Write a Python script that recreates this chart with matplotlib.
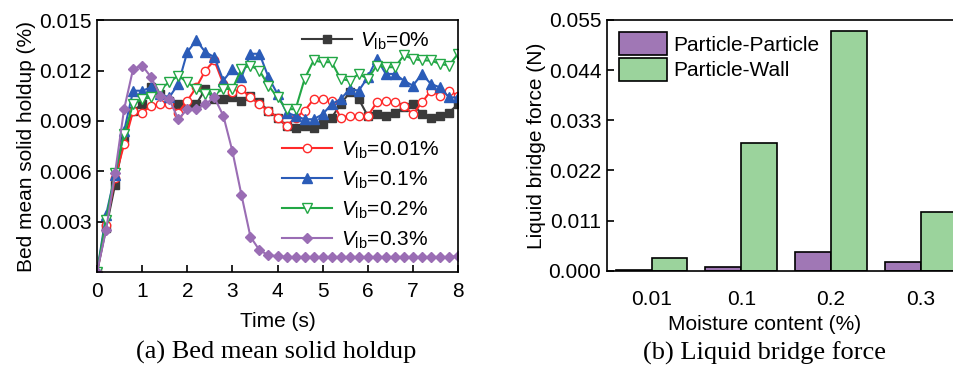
import matplotlib.pyplot as plt
import numpy as np

plt.rcParams['font.family'] = 'Liberation Sans'
plt.rcParams['mathtext.fontset'] = 'custom'
plt.rcParams['mathtext.rm'] = 'Liberation Sans'
plt.rcParams['mathtext.it'] = 'Liberation Sans:italic'

# time series (s) and holdup values (x1e-3 %)
time = np.arange(0, 8.01, 0.2)
holdup_0 = [0, 2.6, 5.2, 8.0, 9.6, 10.0, 11.0, 10.6, 10.2, 10.0, 9.9, 10.0, 10.9, 10.3,
            10.3, 10.4, 10.2, 10.5, 10.1, 9.6, 9.2, 8.7, 8.6, 8.7, 8.6, 8.8, 9.2, 10.0,
            10.7, 10.3, 9.3, 9.4, 9.3, 9.5, 9.8, 10.0, 9.4, 9.2, 9.3, 9.5, 10.0]
holdup_001 = [0, 2.8, 5.6, 7.6, 9.6, 9.5, 9.9, 10.0, 10.0, 9.5, 10.2, 11.0, 12.0, 12.6,
              11.2, 10.7, 10.9, 10.4, 10.0, 9.6, 9.2, 8.7, 9.2, 9.6, 10.3, 10.3, 10.2, 9.2,
              9.3, 9.3, 9.3, 10.1, 10.2, 10.1, 9.9, 9.4, 10.1, 10.8, 10.5, 10.8, 10.5]
holdup_01 = [0, 3.4, 5.8, 8.4, 10.8, 10.8, 11.0, 10.6, 10.4, 11.2, 13.1, 13.8, 13.1, 12.8,
             11.4, 12.1, 11.6, 13.0, 13.0, 11.6, 10.6, 9.5, 9.3, 9.1, 9.1, 9.4, 10.0, 10.3,
             10.9, 10.8, 11.6, 12.7, 11.8, 11.8, 11.4, 11.1, 11.8, 11.2, 11.0, 10.4, 10.4]
holdup_02 = [0, 3.1, 5.9, 8.2, 10.0, 10.3, 10.4, 10.9, 11.3, 11.7, 11.3, 10.9, 10.6, 10.6,
             10.9, 10.9, 12.1, 12.3, 12.0, 11.1, 10.4, 9.7, 9.7, 11.5, 12.6, 12.5, 12.5, 11.5,
             11.4, 11.8, 11.5, 12.3, 12.2, 12.2, 12.9, 12.7, 12.6, 12.6, 12.4, 12.3, 13.0]
holdup_03 = [0, 2.5, 5.9, 9.7, 12.1, 12.3, 11.6, 10.5, 10.3, 9.1, 9.7, 9.7, 10.0, 10.4,
             9.3, 7.2, 4.6, 2.1, 1.3, 1.0, 0.95, 0.9, 0.9, 0.9, 0.9, 0.9, 0.9, 0.9,
             0.9, 0.9, 0.9, 0.9, 0.9, 0.9, 0.9, 0.9, 0.9, 0.9, 0.9, 0.9, 0.95]

# liquid bridge force (N)
moisture = ['0.01', '0.1', '0.2', '0.3']
force_pp = [0.0002, 0.0008, 0.0042, 0.0020]
force_pw = [0.0028, 0.0280, 0.0526, 0.0130]

fs = 15

fig = plt.figure(figsize=(9.54, 3.81), dpi=100)

# (a) bed mean solid holdup
ax1 = fig.add_axes([0.1017, 0.286, 0.3784, 0.661])
l0, = ax1.plot(time, np.array(holdup_0) / 1000, color='#3a3a3a', marker='s', ms=5.5,
               lw=1.5, label=r'$V_{\rm lb}$=0%')
l1, = ax1.plot(time, np.array(holdup_001) / 1000, color='#ff2a2a', marker='o', ms=6,
               mfc='white', lw=1.5, label=r'$V_{\rm lb}$=0.01%')
l2, = ax1.plot(time, np.array(holdup_01) / 1000, color='#2b5cb8', marker='^', ms=7,
               lw=1.5, label=r'$V_{\rm lb}$=0.1%')
l3, = ax1.plot(time, np.array(holdup_02) / 1000, color='#22a745', marker='v', ms=7,
               mfc='white', lw=1.5, label=r'$V_{\rm lb}$=0.2%')
l4, = ax1.plot(time, np.array(holdup_03) / 1000, color='#9a6db4', marker='D', ms=5.5,
               lw=1.5, label=r'$V_{\rm lb}$=0.3%')
ax1.set_xlim(0, 8)
ax1.set_ylim(0, 0.015)
ax1.set_xticks(range(9))
ax1.set_yticks([0.003, 0.006, 0.009, 0.012, 0.015])
ax1.tick_params(direction='in', length=5, width=1.2, labelsize=fs)
ax1.tick_params(axis='x', pad=7)
ax1.tick_params(axis='y', pad=4)
ax1.set_xlabel('Time (s)', fontsize=fs, labelpad=8)
ax1.set_ylabel('Bed mean solid holdup (%)', fontsize=fs, labelpad=2)
leg1 = ax1.legend(handles=[l0], loc='upper right', frameon=False, fontsize=15,
                  handlelength=2.4, borderaxespad=0.1, handletextpad=0.4,
                  bbox_to_anchor=(0.95, 1.0))
ax1.add_artist(leg1)
ax1.legend(handles=[l1, l2, l3, l4], loc='lower right', frameon=False, fontsize=15,
           handlelength=2.4, borderaxespad=0.5, handletextpad=0.4, labelspacing=0.42,
           bbox_to_anchor=(1.0, 0.01))
for s in ax1.spines.values():
    s.set_linewidth(1.2)

# (b) liquid bridge force
ax2 = fig.add_axes([0.636, 0.289, 0.376, 0.659])
x = np.arange(len(moisture))
w = 0.4
ax2.bar(x - w / 2, force_pp, w, color='#a077b5', edgecolor='black', lw=1.2,
        label='Particle-Particle')
ax2.bar(x + w / 2, force_pw, w, color='#9bd39c', edgecolor='black', lw=1.2,
        label='Particle-Wall')
ax2.set_xlim(-0.5, 3.5)
ax2.set_ylim(0, 0.055)
ax2.set_xticks(x)
ax2.set_xticklabels(moisture)
ax2.set_yticks(np.arange(0, 0.0551, 0.011))
ax2.set_yticklabels(['0.000', '0.011', '0.022', '0.033', '0.044', '0.055'])
ax2.tick_params(axis='y', direction='in', length=5, width=1.2, labelsize=fs, pad=4)
ax2.tick_params(axis='x', length=0, labelsize=fs, pad=14)
ax2.set_xlabel('Moisture content (%)', fontsize=fs)
ax2.xaxis.set_label_coords(0.44, -0.175)
ax2.set_ylabel('Liquid bridge force (N)', fontsize=fs, labelpad=2)
ax2.legend(loc='upper left', frameon=False, fontsize=15, handlelength=2.3,
           handleheight=1.3, handletextpad=0.3, labelspacing=0.15, borderaxespad=0.3,
           borderpad=0.3)
for s in ax2.spines.values():
    s.set_linewidth(1.2)

fig.text(0.29, 0.074, '(a) Bed mean solid holdup', ha='center', va='center', fontsize=19,
         family='Liberation Serif')
fig.text(0.801, 0.074, '(b) Liquid bridge force', ha='center', va='center', fontsize=19,
         family='Liberation Serif')

fig.savefig('out.png', dpi=100)
